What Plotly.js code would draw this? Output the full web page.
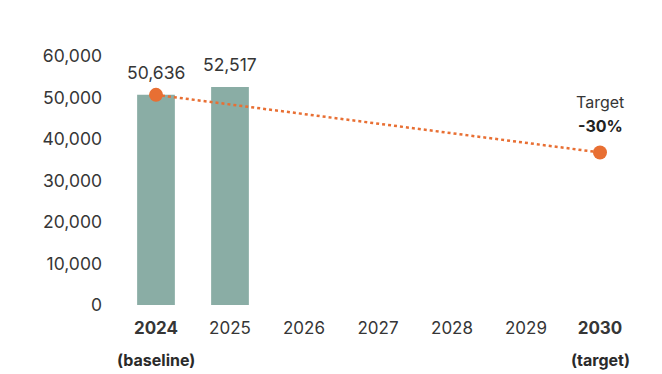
<!DOCTYPE html>
<html>
<head>
<meta charset="utf-8">
<script src="https://cdn.plot.ly/plotly-3.0.1.min.js"></script>
<style>html,body{margin:0;padding:0;background:#fff;}#chart{width:662px;height:374px;}</style>
</head>
<body>
<div id="chart"></div>
<script>
const years = ['2024','2025','2026','2027','2028','2029','2030'];
const tickLabels = ['<b>2024</b>','2025','2026','2027','2028','2029','<b>2030</b>'];
const barYears = ['2024','2025'];
const barValues = [50636, 52517];
const barLabels = ['50,636','52,517'];
const targetYears = ['2024','2030'];
const targetValues = [50636, 36762];
const targetLabel = ['Target','-30%'];
const subLabels = [{year:'2024', text:'(baseline)'}, {year:'2030', text:'(target)'}];
const yTicks = [0,10000,20000,30000,40000,50000,60000];

const FONT = 'Inter, DejaVu Sans, sans-serif';
const TXT = '#363636';
const BAR = '#8aada5';
const ORANGE = '#e86f33';

const traces = [
  {type:'bar', x:barYears, y:barValues, marker:{color:BAR}, hoverinfo:'skip'},
  {type:'scatter', mode:'lines+markers', x:targetYears, y:targetValues,
   line:{color:ORANGE, width:2.5, dash:'dot'},
   marker:{color:ORANGE, size:14}, hoverinfo:'skip'}
];

const annotations = [];
barYears.forEach((yr,i)=>{
  annotations.push({x:years.indexOf(yr), y:barValues[i], xref:'x', yref:'y', text:barLabels[i],
    showarrow:false, yanchor:'bottom', yshift:10, font:{family:FONT, size:17.5, color:TXT}});
});
annotations.push({x:years.indexOf(targetYears[1]), y:targetValues[1], xref:'x', yref:'y', text:targetLabel[0],
  showarrow:false, yanchor:'middle', yshift:50, font:{family:FONT, size:16, color:TXT}});
annotations.push({x:years.indexOf(targetYears[1]), y:targetValues[1], xref:'x', yref:'y', text:'<b>'+targetLabel[1]+'</b>',
  showarrow:false, yanchor:'middle', yshift:26, font:{family:FONT, size:16, color:'#222'}});
subLabels.forEach(s=>{
  annotations.push({x:years.indexOf(s.year), y:0, xref:'x', yref:'paper', text:'<b>'+s.text+'</b>',
    showarrow:false, yanchor:'middle', yshift:-55, font:{family:FONT, size:16, color:'#2a2a2a'}});
});

const layout = {
  width:662, height:374,
  margin:{l:119, r:25, t:56, b:69},
  paper_bgcolor:'#fff', plot_bgcolor:'#fff',
  showlegend:false,
  bargap:0.49,
  font:{family:FONT, size:17, color:TXT},
  xaxis:{type:'category', categoryorder:'array', categoryarray:years,
    range:[-0.5,6.5], tickvals:years, ticktext:tickLabels,
    showgrid:false, zeroline:false, showline:false, ticks:'',
    ticklabelstandoff:11, tickfont:{family:FONT, size:17, color:TXT}},
  yaxis:{range:[0,60000], tickvals:yTicks, tickformat:',',
    showgrid:false, zeroline:false, showline:false, ticks:'',
    ticklabelstandoff:16, tickfont:{family:FONT, size:17.5, color:TXT}},
  annotations:annotations
};

Plotly.newPlot('chart', traces, layout, {displayModeBar:false});
</script>
</body>
</html>
